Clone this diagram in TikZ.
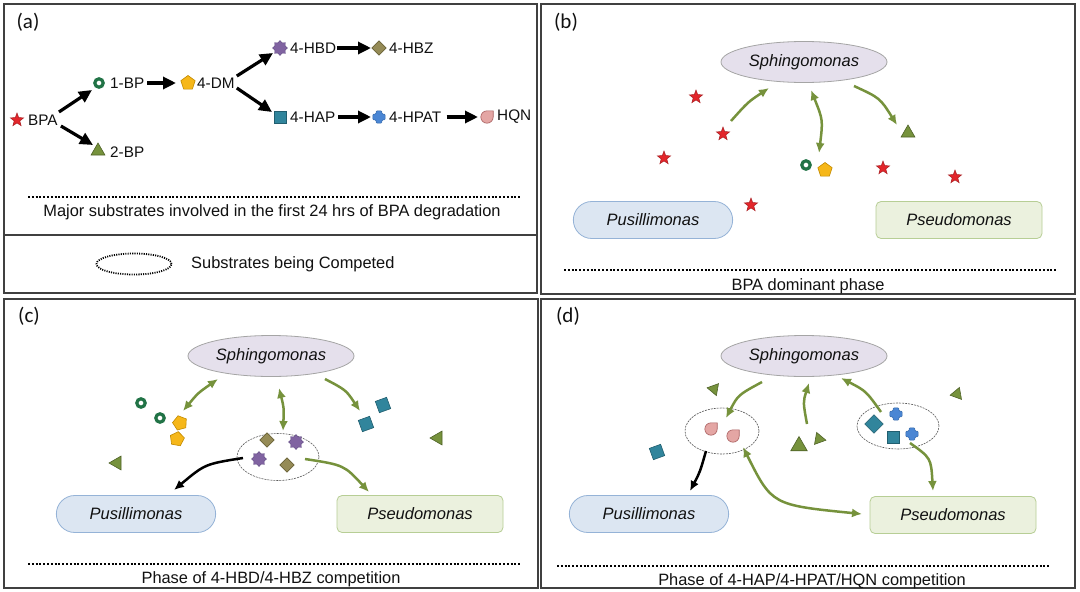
\documentclass[tikz,border=0pt]{standalone}
\usepackage{fontspec}
\setmainfont{Liberation Sans}
\newfontfamily\labfont{Carlito}
\usetikzlibrary{shapes.geometric,shapes.misc,arrows.meta,calc}

\definecolor{frm}{HTML}{404040}
\definecolor{grn}{HTML}{76923C}
\definecolor{starf}{HTML}{E3262B}\definecolor{stard}{HTML}{A81C20}
\definecolor{ringg}{HTML}{217346}
\definecolor{pentf}{HTML}{F6B719}\definecolor{pentd}{HTML}{C28A00}
\definecolor{sealf}{HTML}{8063A1}\definecolor{seald}{HTML}{5E4880}
\definecolor{diaf}{HTML}{958B56}\definecolor{diad}{HTML}{6A6236}
\definecolor{sqf}{HTML}{31859C}\definecolor{sqd}{HTML}{215E6F}
\definecolor{crsf}{HTML}{4A86D4}\definecolor{crsd}{HTML}{3468A8}
\definecolor{dropf}{HTML}{E4A6A4}\definecolor{dropd}{HTML}{A85E5E}
\definecolor{trif}{HTML}{76923C}\definecolor{trid}{HTML}{4F6228}
\definecolor{sphf}{HTML}{E5E0EC}\definecolor{sphd}{HTML}{A5A5A5}
\definecolor{pusf}{HTML}{DCE6F2}\definecolor{pusd}{HTML}{95B3D7}
\definecolor{psef}{HTML}{EBF1DE}\definecolor{psed}{HTML}{B7CE95}
\definecolor{txt}{HTML}{111111}

\tikzset{
  panelframe/.style={draw=frm, line width=1.5pt},
  plab/.style={font=\labfont\fontsize{21}{24}\selectfont, text=txt, inner sep=0pt},
  lab/.style={font=\fontsize{15.3}{18}\selectfont, text=txt, inner sep=0pt, anchor=west},
  captxt/.style={font=\fontsize{16.4}{19}\selectfont, text=txt, inner sep=0pt},
  dotline/.style={line width=2.8pt, dash pattern=on 1.9pt off 1.9pt},
  symstar/.style={star, star points=5, star point ratio=2.4, minimum size=14pt, inner sep=0pt, fill=starf, draw=stard, line width=0.5pt},
  symring/.style={circle, draw=ringg, line width=3.2pt, fill=white, minimum size=8.4pt, inner sep=0pt},
  sympent/.style={regular polygon, regular polygon sides=5, minimum size=15pt, inner sep=0pt, fill=pentf, draw=pentd, line width=0.6pt},
  symseal/.style={star, star points=8, star point ratio=1.35, minimum size=15pt, inner sep=0pt, fill=sealf, draw=seald, line width=0.4pt},
  symdia/.style={diamond, minimum size=14.5pt, inner sep=0pt, fill=diaf, draw=diad, line width=0.6pt},
  symsq/.style={rectangle, minimum size=12pt, inner sep=0pt, fill=sqf, draw=sqd, line width=0.6pt},
  symtri/.style={regular polygon, regular polygon sides=3, minimum size=16pt, inner sep=0pt, fill=trif, draw=trid, line width=0.6pt},
  sph/.style={ellipse, minimum width=166pt, minimum height=41pt, fill=sphf, draw=sphd, line width=0.8pt, font=\fontsize{16.5}{19}\selectfont\itshape, text=txt},
  pus/.style={rounded rectangle, minimum width=166pt, minimum height=37pt, fill=pusf, draw=pusd, line width=0.8pt, font=\fontsize{16.5}{19}\selectfont\itshape, text=txt},
  pse/.style={rectangle, rounded corners=5pt, minimum width=166pt, minimum height=37pt, fill=psef, draw=psed, line width=0.8pt, font=\fontsize{16.5}{19}\selectfont\itshape, text=txt},
  compell/.style={ellipse, draw=black!65, dash pattern=on 2pt off 1pt, line width=0.6pt, inner sep=0pt},
  blk/.style={draw=black, line width=3.2pt, -{Triangle[length=13pt,width=12pt]}},
  garr/.style={draw=grn, line width=2.5pt, -{Latex[length=10pt,width=9pt]}},
  gdbl/.style={draw=grn, line width=2.5pt, {Latex[length=10pt,width=9pt]}-{Latex[length=10pt,width=9pt]}},
  barr/.style={draw=black, line width=2.5pt, -{Latex[length=10pt,width=9pt]}},
  pics/plus/.style={code={
    \filldraw[fill=crsf, draw=crsd, line width=0.5pt, rounded corners=1pt]
      (-2.9pt,-6.2pt) -- (2.9pt,-6.2pt) -- (2.9pt,-2.9pt) -- (6.2pt,-2.9pt) -- (6.2pt,2.9pt) -- (2.9pt,2.9pt)
      -- (2.9pt,6.2pt) -- (-2.9pt,6.2pt) -- (-2.9pt,2.9pt) -- (-6.2pt,2.9pt) -- (-6.2pt,-2.9pt) -- (-2.9pt,-2.9pt) -- cycle;}},
  pics/drop/.style={code={
    \filldraw[fill=dropf, draw=dropd, line width=0.6pt]
      (6.2pt,0pt) -- (6.2pt,6.2pt) -- (0pt,6.2pt) arc[start angle=90, end angle=360, radius=6.2pt] -- cycle;}},
}

\begin{document}
\begin{tikzpicture}[x=1pt,y=-1pt]
\useasboundingbox (0,0) rectangle (1080,592);
\fill[white] (0,0) rectangle (1080,592);

% ---------- frames ----------
\draw[panelframe] (4,4) rectangle (537,293);
\draw[panelframe] (4,235) -- (537,235);
\draw[panelframe] (541,4) rectangle (1075,294);
\draw[panelframe] (4,299) rectangle (538,588);
\draw[panelframe] (541,299) rectangle (1075,588);

\node[plab] (la) at (28,22) {(a)};
\node[plab] (lb) at (566,22) {(b)};
\node[plab] (lc) at (29,316) {(c)};
\node[plab] (ld) at (568,316) {(d)};

% ---------- panel (a) ----------
\node[symstar] (sa) at (17,120) {};
\node[lab] (bpa) at (28,120) {BPA};
\node[symring] (r1) at (99,83) {};
\node[lab] (n1bp) at (110,83) {1-BP};
\node[sympent] (p1) at (188,83) {};
\node[lab] (n4dm) at (197,83) {4-DM};
\node[symseal] (s1) at (280,48) {};
\node[lab] (n4hbd) at (290,48) {4-HBD};
\node[symdia] (d1) at (379,48) {};
\node[lab] (n4hbz) at (389,48) {4-HBZ};
\node[symsq] (q1) at (280,117) {};
\node[lab] (n4hap) at (290,117) {4-HAP};
\coordinate (x1) at (379,117);
\pic at (x1) {plus};
\node[lab] (n4hpat) at (389,117) {4-HPAT};
\coordinate (h1) at (487,117);
\pic at (h1) {drop};
\node[lab] (nhqn) at (497,117) {HQN};
\node[symtri] (t1) at (98,151) {};
\node[lab] (n2bp) at (110,152) {2-BP};

\draw[blk] ([shift={(16,-8)}]bpa.center) -- ([shift={(-7,7)}]r1.center);
\draw[blk] ([shift={(18,6)}]bpa.center) -- ([shift={(-5,-6)}]t1.center);
\draw[blk] ([shift={(3,0)}]n1bp.east) -- ([shift={(-12,0)}]p1.center);
\draw[blk] ([shift={(2,-7)}]n4dm.east) -- ([shift={(-7,5)}]s1.center);
\draw[blk] ([shift={(2,5)}]n4dm.east) -- ([shift={(-8,-5)}]q1.center);
\draw[blk] ([shift={(1,0)}]n4hbd.east) -- ([shift={(-8,0)}]d1.center);
\draw[blk] ([shift={(3,0)}]n4hap.east) -- ([shift={(-8,0)}]x1);
\draw[blk] ([shift={(5,0)}]n4hpat.east) -- ([shift={(-9,0)}]h1);

\draw[dotline] (28,197) -- (521,197);
\node[captxt] (capa) at (272,212) {Major substrates involved in the first 24 hrs of BPA degradation};
\node[ellipse, draw=black, line width=1.8pt, dash pattern=on 1.1pt off 1.2pt, minimum width=75pt, minimum height=21pt, inner sep=0pt] (leg) at (134,264) {};
\node[captxt, anchor=west] (legt) at (191,264) {Substrates being Competed};

% ---------- panel (b) ----------
\node[sph] (sphb) at (804,62) {Sphingomonas};
\node[pus] (pusb) at (653,220) {Pusillimonas};
\node[pse] (pseb) at (959,220) {Pseudomonas};
\node[symstar] (b1) at (696,97) {};
\node[symstar] (b2) at (723,134) {};
\node[symstar] (b3) at (664,158) {};
\node[symstar] (b4) at (751,205) {};
\node[symstar] (b5) at (883,168) {};
\node[symstar] (b6) at (955,177) {};
\node[symring] (b7) at (806,165) {};
\node[sympent] (b8) at (825,170) {};
\node[symtri] (b9) at (908,133) {};
\coordinate (bA) at (731,121);
\coordinate (bB) at (769,88);
\coordinate (bC) at (811,90);
\coordinate (bD) at (819,153);
\coordinate (bE) at (854,86);
\coordinate (bF) at (897,125);
\draw[garr] (bA) .. controls (748,102) .. (bB);
\draw[gdbl] (bC) .. controls (823,120) .. (bD);
\draw[garr] (bE) .. controls (880,98) .. (bF);
\draw[dotline] (564,270) -- (1056,270);
\node[captxt] (capb) at (808,286) {BPA dominant phase};

% ---------- panel (c) ----------
\node[sph] (sphc) at (271,356) {Sphingomonas};
\node[pus] (pusc) at (136,514) {Pusillimonas};
\node[pse] (psec) at (420,514) {Pseudomonas};
\node[compell, minimum width=82pt, minimum height=47pt] (compc) at (278,457) {};
\node[symring] (c1) at (141,403) {};
\node[symring] (c2) at (160,418) {};
\node[sympent, rotate=15] (c3) at (180,423) {};
\node[sympent, rotate=-10] (c4) at (177,439) {};
\node[symtri, rotate=90] (c5) at (117,463) {};
\node[symtri, rotate=90] (c6) at (438,438) {};
\node[symsq, rotate=20] (c7) at (383,405) {};
\node[symsq, rotate=20] (c8) at (366,424) {};
\node[symdia] (c9) at (267,440) {};
\node[symdia] (c10) at (287,465) {};
\node[symseal] (c11) at (296,442) {};
\node[symseal] (c12) at (259,459) {};
\coordinate (cA) at (183,411);
\coordinate (cB) at (218,379);
\coordinate (cC) at (279,388);
\coordinate (cD) at (283,431);
\coordinate (cE) at (325,379);
\coordinate (cF) at (360,411);
\coordinate (cG) at (243,458);
\coordinate (cH) at (174,490);
\coordinate (cI) at (305,459);
\coordinate (cJ) at (369,492);
\draw[gdbl] (cA) .. controls (198,393) .. (cB);
\draw[gdbl] (cC) .. controls (284,408) .. (cD);
\draw[garr] (cE) .. controls (346,390) .. (cF);
\draw[barr] (cG) .. controls (205,464) .. (cH);
\draw[garr] (cI) .. controls (344,465) .. (cJ);
\draw[dotline] (28,564) -- (520,564);
\node[captxt] (capc) at (271,579) {Phase of 4-HBD/4-HBZ competition};

% ---------- panel (d) ----------
\node[sph] (sphd) at (804,356) {Sphingomonas};
\node[pus] (pusd) at (649,514) {Pusillimonas};
\node[pse] (psed) at (953,515) {Pseudomonas};
\node[compell, minimum width=74pt, minimum height=46pt] (compd1) at (722,431) {};
\node[compell, minimum width=82pt, minimum height=46pt] (compd2) at (898,426) {};
\coordinate (dq1) at (711,429);
\pic at (dq1) {drop};
\coordinate (dq2) at (733,436);
\pic at (dq2) {drop};
\node[symsq, rotate=45, minimum size=13pt] (d3) at (874,424) {};
\coordinate (dx1) at (896,414);
\pic at (dx1) {plus};
\node[symsq] (d4) at (893,437) {};
\coordinate (dx2) at (912,434);
\pic at (dx2) {plus};
\node[symtri, rotate=-40, minimum size=14pt] (d5) at (714,389) {};
\node[symtri, rotate=100, minimum size=14pt] (d6) at (957,394) {};
\node[symtri, minimum size=19pt] (d7) at (799,446) {};
\node[symtri, rotate=20, minimum size=14pt] (d8) at (819,439) {};
\node[symsq, rotate=20] (d9) at (657,452) {};
\coordinate (dA) at (762,382);
\coordinate (dB) at (726,418);
\coordinate (dC) at (807,424);
\coordinate (dD) at (809,383);
\coordinate (dE) at (881,412);
\coordinate (dF) at (841,378);
\coordinate (dG) at (910,443);
\coordinate (dH) at (933,491);
\coordinate (dI) at (706,451);
\coordinate (dJ) at (690,491);
\coordinate (dK) at (743,447);
\coordinate (dL) at (862,514);
\draw[garr] (dA) .. controls (738,395) .. (dB);
\draw[garr] (dC) .. controls (803,402) .. (dD);
\draw[garr] (dE) .. controls (866,391) .. (dF);
\draw[garr] (dG) .. controls (931,458) .. (dH);
\draw[barr] (dI) .. controls (700,472) .. (dJ);
\draw[gdbl] (dK) .. controls (772,505) .. (dL);
\draw[dotline] (557,566) -- (1050,566);
\node[captxt] (capd) at (812,581) {Phase of 4-HAP/4-HPAT/HQN competition};
\end{tikzpicture}
\end{document}
